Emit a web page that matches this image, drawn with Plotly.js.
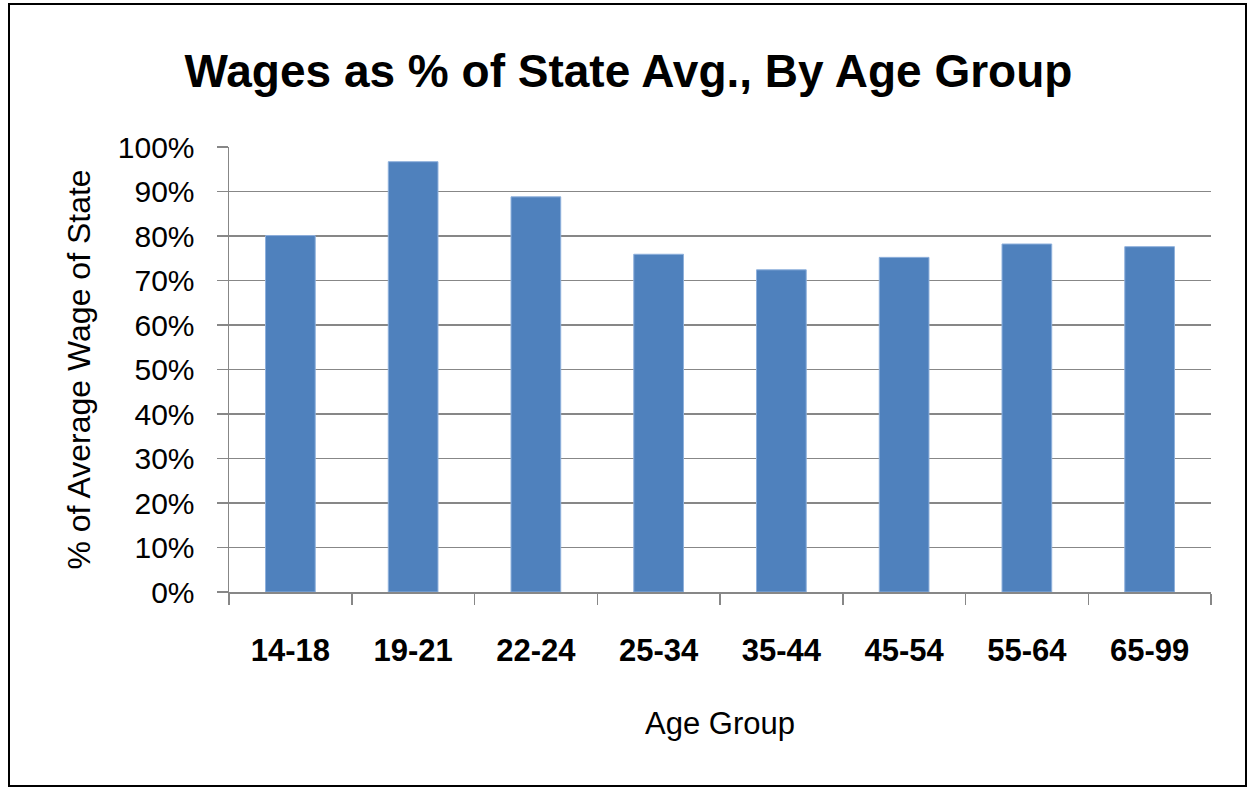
<!DOCTYPE html>
<html>
<head>
<meta charset="utf-8">
<script src="https://cdn.plot.ly/plotly-3.0.1.min.js"></script>
<style>
  html, body { margin: 0; padding: 0; background: #ffffff; }
  #wrap { position: relative; width: 1247px; height: 788px; }
  #chart { position: absolute; left: 0; top: 0; width: 1247px; height: 788px; }
  #frame { position: absolute; left: 8px; top: 3px; width: 1235px; height: 780px;
           border: 2px solid #000; pointer-events: none; }
</style>
</head>
<body>
<div id="wrap">
  <div id="chart"></div>
  <div id="frame"></div>
</div>
<script>
const ageGroups = ["14-18", "19-21", "22-24", "25-34", "35-44", "45-54", "55-64", "65-99"];
const wagePct = [0.801, 0.967, 0.888, 0.759, 0.724, 0.752, 0.782, 0.776];
const yTickVals = [0, 0.1, 0.2, 0.3, 0.4, 0.5, 0.6, 0.7, 0.8, 0.9, 1.0];
const yTickText = ["0%", "10%", "20%", "30%", "40%", "50%", "60%", "70%", "80%", "90%", "100%"];
const chartTitle = "Wages as % of State Avg., By Age Group";
const xTitle = "Age Group";
const yTitle = "% of Average Wage of State";

const FONT = "Liberation Sans, Arial, sans-serif";
const GRID = "#878787";

const trace = {
  type: "bar",
  x: ageGroups,
  y: wagePct,
  marker: { color: "#4f81bd", line: { color: "#8eb0dc", width: 1 } },
  hoverinfo: "x+y"
};

const layout = {
  width: 1247,
  height: 788,
  paper_bgcolor: "#ffffff",
  plot_bgcolor: "#ffffff",
  margin: { l: 229, r: 36, t: 147, b: 196, pad: 0 },
  showlegend: false,
  bargap: 0.595,
  title: {
    text: chartTitle,
    font: { family: FONT, size: 46, color: "#000000", weight: "bold" },
    x: 0.504, xref: "container", xanchor: "center",
    y: 0.91, yref: "container", yanchor: "middle"
  },
  xaxis: {
    type: "category",
    range: [-0.5, 7.5],
    showgrid: false,
    showline: true, linecolor: GRID, linewidth: 1.5,
    ticks: "outside", ticklen: 11, tickwidth: 1.5, tickcolor: GRID,
    tickson: "boundaries",
    ticklabelstandoff: 30,
    tickfont: { family: FONT, size: 31, color: "#000000", weight: "bold" },
    title: { text: xTitle, standoff: 45, font: { family: FONT, size: 31, color: "#000000" } },
    fixedrange: true
  },
  yaxis: {
    range: [0, 1],
    tickvals: yTickVals,
    ticktext: yTickText,
    showgrid: true, gridcolor: GRID, gridwidth: 1.5,
    zeroline: false,
    showline: true, linecolor: GRID, linewidth: 1.5,
    ticks: "outside", ticklen: 11, tickwidth: 1.5, tickcolor: GRID,
    ticklabelstandoff: 16,
    tickfont: { family: FONT, size: 30, color: "#000000" },
    title: { text: yTitle, standoff: 17, font: { family: FONT, size: 32, color: "#000000" } },
    fixedrange: true
  }
};

Plotly.newPlot("chart", [trace], layout, { displayModeBar: false, staticPlot: true });
</script>
</body>
</html>
